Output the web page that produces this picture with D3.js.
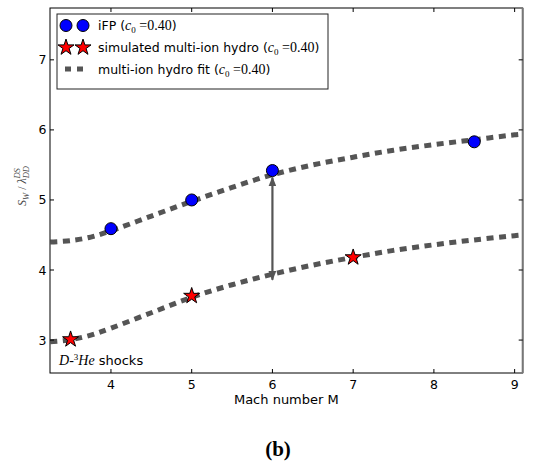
<!DOCTYPE html>
<html>
<head>
<meta charset="utf-8">
<script src="https://cdn.jsdelivr.net/npm/d3@7"></script>
<style>
  body { margin: 0; background: #fff; }
</style>
</head>
<body>
<div id="chart"></div>
<script>
// iFP points
var machFP = [4, 5, 6, 8.5];
var swFP = [4.59, 5.0, 5.42, 5.83];
// simulated multi-ion hydro points
var machSim = [3.5, 5, 7];
var swSim = [3.01, 3.63, 4.18];
// fit curves
var machFit = [3.25, 3.5, 3.75, 4, 4.5, 5, 5.5, 6, 6.5, 7, 7.5, 8, 8.5, 9, 9.1];
var swFitUpper = [4.40, 4.42, 4.47, 4.56, 4.77, 4.98, 5.18, 5.36, 5.50, 5.61, 5.71, 5.79, 5.86, 5.93, 5.94];
var swFitLower = [2.975, 3.005, 3.07, 3.17, 3.39, 3.61, 3.79, 3.94, 4.07, 4.18, 4.28, 4.36, 4.43, 4.49, 4.50];
var xTicks = [4, 5, 6, 7, 8, 9];
var yTicks = [3, 4, 5, 6, 7];
var arrowMach = 6, arrowLow = 3.86, arrowHigh = 5.32;

var W = 537, H = 464;
var pl = 50, pr = 522.7, pt = 8, pb = 373;

var sans = "'DejaVu Sans', sans-serif";
var math = "'Liberation Serif', 'DejaVu Serif', serif";

var svg = d3.select("#chart").append("svg")
    .attr("width", W).attr("height", H)
    .attr("font-family", sans);

var x = d3.scaleLinear().domain([3.245, 9.1]).range([pl, pr]);
var y = d3.scaleLinear().domain([2.53, 7.74]).range([pb, pt]);

var gray = "#555555";

svg.append("clipPath").attr("id", "clip")
  .append("rect").attr("x", pl).attr("y", pt).attr("width", pr - pl).attr("height", pb - pt);

// fit lines
var line = d3.line()
    .x(function(d) { return x(d[0]); })
    .y(function(d) { return y(d[1]); })
    .curve(d3.curveCatmullRom.alpha(0.5));

[swFitUpper, swFitLower].forEach(function(s) {
  svg.append("path")
    .datum(machFit.map(function(m, i) { return [m, s[i]]; }))
    .attr("d", line)
    .attr("clip-path", "url(#clip)")
    .attr("fill", "none")
    .attr("stroke", gray)
    .attr("stroke-width", 5)
    .attr("stroke-dasharray", "7,5.5");
});

// double arrow
var defs = svg.append("defs");
defs.append("marker")
    .attr("id", "ah")
    .attr("viewBox", "0 0 10 10")
    .attr("refX", 9).attr("refY", 5)
    .attr("markerWidth", 4.5).attr("markerHeight", 3.6)
    .attr("preserveAspectRatio", "none")
    .attr("orient", "auto-start-reverse")
  .append("path")
    .attr("d", "M0,0 L10,5 L0,10 z")
    .attr("fill", gray);

svg.append("line")
    .attr("x1", x(arrowMach)).attr("x2", x(arrowMach))
    .attr("y1", y(arrowLow)).attr("y2", y(arrowHigh))
    .attr("stroke", gray)
    .attr("stroke-width", 2.2)
    .attr("marker-start", "url(#ah)")
    .attr("marker-end", "url(#ah)");

// markers
svg.selectAll(".fp")
    .data(machFP)
    .enter().append("circle")
    .attr("cx", function(d) { return x(d); })
    .attr("cy", function(d, i) { return y(swFP[i]); })
    .attr("r", 6)
    .attr("fill", "#0000ff")
    .attr("stroke", "#000")
    .attr("stroke-width", 1);

var star = d3.symbol().type(d3.symbolStar).size(80);
svg.selectAll(".sim")
    .data(machSim)
    .enter().append("path")
    .attr("d", star)
    .attr("transform", function(d, i) { return "translate(" + x(d) + "," + y(swSim[i]) + ")"; })
    .attr("fill", "#ff0000")
    .attr("stroke", "#000")
    .attr("stroke-width", 1);

// frame
svg.append("rect")
    .attr("x", pl).attr("y", pt)
    .attr("width", pr - pl).attr("height", pb - pt)
    .attr("fill", "none").attr("stroke", "#000").attr("stroke-width", 1);
svg.append("line")
    .attr("x1", pr).attr("x2", pr).attr("y1", pt).attr("y2", pb)
    .attr("stroke", "#777").attr("stroke-width", 2);

// ticks (inward, all sides)
var tk = 4;
xTicks.forEach(function(t) {
  svg.append("line").attr("x1", x(t)).attr("x2", x(t))
      .attr("y1", pb).attr("y2", pb - tk).attr("stroke", "#000");
  svg.append("line").attr("x1", x(t)).attr("x2", x(t))
      .attr("y1", pt).attr("y2", pt + tk).attr("stroke", "#000");
  svg.append("text").attr("x", x(t)).attr("y", 388.5)
      .attr("text-anchor", "middle").attr("font-size", 12.5).text(t);
});
yTicks.forEach(function(t) {
  svg.append("line").attr("x1", pl).attr("x2", pl + tk)
      .attr("y1", y(t)).attr("y2", y(t)).attr("stroke", "#000");
  svg.append("line").attr("x1", pr).attr("x2", pr - tk)
      .attr("y1", y(t)).attr("y2", y(t)).attr("stroke", "#000");
  svg.append("text").attr("x", 46.5).attr("y", y(t) + 4.5)
      .attr("text-anchor", "end").attr("font-size", 12.5).text(t);
});

// axis labels
svg.append("text").attr("x", (pl + pr) / 2).attr("y", 404)
    .attr("text-anchor", "middle").attr("font-size", 13).text("Mach number M");

var yl = svg.append("text")
    .attr("transform", "translate(26,186) rotate(-90)")
    .attr("text-anchor", "middle")
    .attr("font-family", math)
    .attr("font-size", 12)
    .attr("fill", "#444");
yl.append("tspan").attr("font-style", "italic").text("S");
yl.append("tspan").attr("font-style", "italic").attr("font-size", 8.5).attr("dy", 3).text("W");
yl.append("tspan").attr("dy", -3).text(" / ");
yl.append("tspan").attr("font-style", "italic").text("λ");
yl.append("tspan").attr("font-style", "italic").attr("font-size", 8.5).attr("dy", 3).text("DD");
yl.append("tspan").attr("font-style", "italic").attr("font-size", 8.5).attr("dx", -12.5).attr("dy", -9.5).text("DS");

// annotation D-3He shocks
var ann = svg.append("text").attr("x", 59).attr("y", 365).attr("font-size", 13);
ann.append("tspan").attr("font-family", math).attr("font-style", "italic").attr("font-size", 14).text("D");
ann.append("tspan").attr("font-family", math).attr("font-size", 14).text("-");
ann.append("tspan").attr("font-family", math).attr("font-size", 9).attr("dy", -5).text("3");
ann.append("tspan").attr("font-family", math).attr("font-style", "italic").attr("font-size", 14).attr("dy", 5).text("He");
ann.append("tspan").text(" shocks");

// legend
var lg = svg.append("g");
lg.append("rect").attr("x", 57).attr("y", 14).attr("width", 271).attr("height", 75)
    .attr("fill", "#fff").attr("stroke", "#222").attr("stroke-width", 1);

var rows = [
  {y: 25.5, label: "iFP", kind: "circle"},
  {y: 47.5, label: "simulated multi-ion hydro", kind: "star"},
  {y: 69, label: "multi-ion hydro fit", kind: "line"}
];
rows.forEach(function(r) {
  if (r.kind === "circle") {
    [66, 83].forEach(function(cx) {
      lg.append("circle").attr("cx", cx).attr("cy", r.y).attr("r", 6)
        .attr("fill", "#0000ff").attr("stroke", "#000");
    });
  } else if (r.kind === "star") {
    [66, 83].forEach(function(cx) {
      lg.append("path").attr("d", star)
        .attr("transform", "translate(" + cx + "," + r.y + ")")
        .attr("fill", "#ff0000").attr("stroke", "#000");
    });
  } else {
    lg.append("line").attr("x1", 65).attr("x2", 83).attr("y1", r.y).attr("y2", r.y)
      .attr("stroke", gray).attr("stroke-width", 5).attr("stroke-dasharray", "6,6");
  }
  var t = lg.append("text").attr("x", 98).attr("y", r.y + 4.5).attr("font-size", 12.5);
  t.append("tspan").text(r.label + " (");
  t.append("tspan").attr("font-family", math).attr("font-style", "italic").attr("font-size", 14).text("c");
  t.append("tspan").attr("font-family", math).attr("font-size", 9).attr("dy", 3).text("0");
  t.append("tspan").attr("font-family", math).attr("font-size", 14).attr("dy", -3).text(" =0.40");
  t.append("tspan").text(")");
});

// panel label
svg.append("text").attr("x", 278).attr("y", 456)
    .attr("text-anchor", "middle")
    .attr("font-family", math)
    .attr("font-weight", "bold")
    .attr("font-size", 21)
    .text("(b)");
</script>
</body>
</html>
